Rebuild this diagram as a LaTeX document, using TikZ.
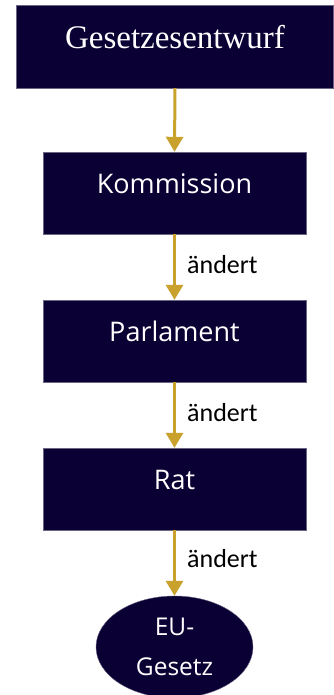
\documentclass[tikz,border=0pt]{standalone}
\usepackage{fontspec}
\setmainfont{Carlito}
\newfontfamily\titlefont{Liberation Serif}
\newfontfamily\boxfont{Open Sans}
\usetikzlibrary{shapes.geometric,arrows.meta}
\definecolor{boxnavy}{RGB}{10,0,52}
\definecolor{arrowgold}{RGB}{201,162,46}
\tikzset{
  stepbox/.style={rectangle, fill=boxnavy, draw=boxnavy!60!white, line width=0.4pt,
    text=white, inner sep=0pt, minimum width=263pt, minimum height=82pt,
    font=\boxfont\fontsize{27}{32}\selectfont, text height=0.7em, text depth=0.55em},
  titlebox/.style={stepbox, minimum width=317pt, minimum height=83pt,
    font=\titlefont\fontsize{33}{38}\selectfont, text height=0.8em, text depth=0.4em},
  endnode/.style={ellipse, fill=boxnavy, draw=boxnavy!60!white, line width=0.4pt,
    text=white, inner sep=0pt, minimum width=157pt, minimum height=102pt,
    align=center, font=\boxfont\fontsize{24.5}{40}\selectfont},
  flow/.style={draw=arrowgold, line width=3pt,
    -{Triangle[width=17pt,length=15pt]}},
  edgelabel/.style={anchor=base west, inner sep=0pt, text=black,
    font=\fontsize{26}{30}\selectfont}
}
\begin{document}
\begin{tikzpicture}[x=1pt, y=-1pt]
  \useasboundingbox (0,0) rectangle (333,695);

  % process steps
  \node[titlebox] (entwurf) at (175,46.5) {Gesetzesentwurf};
  \node[stepbox] (kom) at (174.5,193) {Kommission};
  \node[stepbox] (parl) at (174.5,341) {Parlament};
  \node[stepbox] (rat) at (174.5,489) {Rat};
  \node[endnode] (gesetz) at (174.5,647) {EU-\\Gesetz};

  % connectors
  \draw[flow] (entwurf.south) -- (kom.north);
  \draw[flow] (kom.south) -- (parl.north);
  \draw[flow] (parl.south) -- (rat.north);
  \draw[flow] (rat.south) -- (gesetz.north);

  % connector labels
  \node[edgelabel] (l1) at (187,273) {ändert};
  \node[edgelabel] (l2) at (187,421) {ändert};
  \node[edgelabel] (l3) at (187,567) {ändert};
\end{tikzpicture}
\end{document}
